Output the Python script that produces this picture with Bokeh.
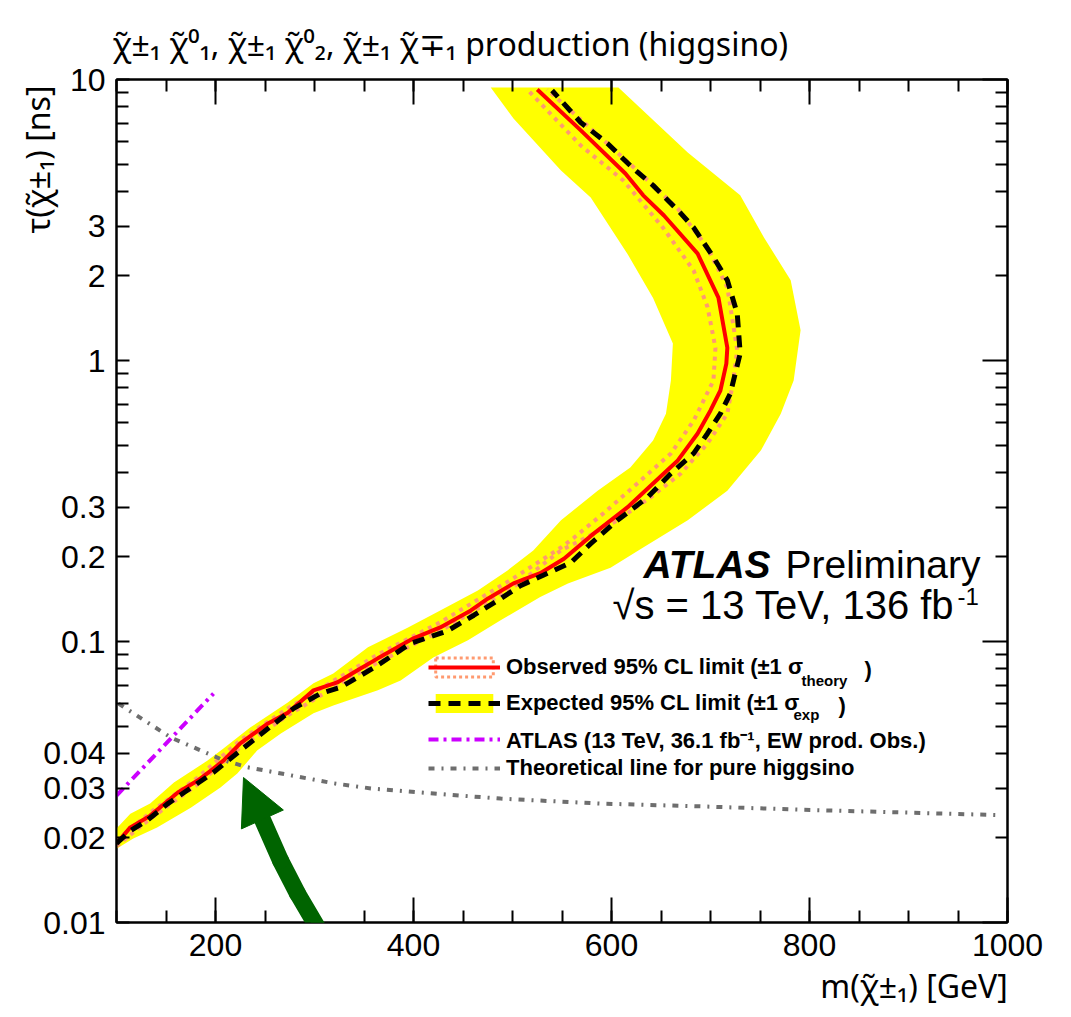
import math
from bokeh.plotting import figure
from bokeh.models import (Range1d, LinearAxis, LogAxis, FixedTicker, SingleIntervalTicker,
                          Label, Legend, LegendItem, Arrow, NormalHead, CustomJSTickFormatter)
from bokeh.embed import file_html
from bokeh.resources import INLINE

FONT = "Liberation Sans"
GREEK_FONT = "Noto Sans"   # shapes the combining tilde over chi correctly
EM = "\u2003"              # em space: used to push the axis titles to the axis ends

# ---------------- data ----------------
obs_m = [100, 114, 134, 162, 182, 198, 208, 225, 253, 273, 299, 323, 343, 364, 400, 427, 458, 475,
         501, 528, 552, 582, 616, 642, 667, 687, 700, 710, 716, 717, 708, 687, 653, 632, 614, 569, 525]
obs_tau = [0.0191, 0.0218, 0.0240, 0.0290, 0.0320, 0.0353, 0.0377, 0.0434, 0.0511, 0.0558, 0.0670,
           0.0715, 0.0788, 0.0871, 0.1026, 0.1122, 0.129, 0.142, 0.161, 0.175, 0.197, 0.242, 0.300,
           0.365, 0.441, 0.550, 0.664, 0.782, 0.975, 1.11, 1.675, 2.40, 3.28, 3.87, 4.63, 6.59, 9.21]

theo_up_m = [100, 134, 182, 225, 273, 323, 364, 427, 501, 549, 569, 606, 639, 670, 697, 717, 723,
             727, 717, 697, 667, 626, 589, 535]
theo_up_tau = [0.0187, 0.0234, 0.0310, 0.0420, 0.0546, 0.0697, 0.0842, 0.109, 0.156, 0.211, 0.229,
               0.270, 0.325, 0.396, 0.507, 0.647, 0.849, 1.09, 1.82, 2.52, 3.47, 4.74, 6.22, 9.21]

theo_dn_m = [100, 134, 182, 225, 273, 323, 364, 427, 501, 549, 562, 592, 626, 660, 683, 703, 705,
             697, 683, 652, 612, 569, 515]
theo_dn_tau = [0.0196, 0.0246, 0.0328, 0.0445, 0.0578, 0.0738, 0.0899, 0.117, 0.168, 0.216, 0.234,
               0.286, 0.365, 0.467, 0.611, 0.849, 1.11, 1.55, 2.09, 2.97, 4.37, 5.82, 9.21]

exp_m = [100, 114, 131, 152, 182, 198, 225, 253, 279, 306, 326, 360, 397, 434, 461, 488, 508, 531,
         559, 579, 606, 636, 660, 683, 697, 710, 720, 730, 727, 717, 703, 683, 670, 642, 622, 596,
         569, 540]
exp_tau = [0.0191, 0.0212, 0.0231, 0.0265, 0.0313, 0.0342, 0.0409, 0.0490, 0.0578, 0.0653, 0.0686,
           0.0807, 0.0984, 0.109, 0.124, 0.142, 0.158, 0.172, 0.191, 0.223, 0.270, 0.325, 0.396,
           0.467, 0.550, 0.647, 0.763, 1.06, 1.47, 1.93, 2.33, 2.97, 3.34, 4.20, 4.82, 5.92, 7.03,
           9.14]

band_out_m = [100, 117, 141, 175, 205, 222, 242, 266, 299, 319, 364, 387, 420, 455, 488, 528, 556,
              599, 632, 677, 717, 751, 771, 784, 791, 781, 754, 730, 677, 607]
band_out_tau = [0.0183, 0.0199, 0.0218, 0.0256, 0.0302, 0.0339, 0.0409, 0.0471, 0.0555, 0.0592,
                0.0670, 0.0726, 0.0877, 0.101, 0.119, 0.144, 0.161, 0.183, 0.216, 0.270, 0.344,
                0.479, 0.647, 0.849, 1.28, 1.93, 2.74, 3.87, 5.50, 9.37]

band_in_m = [100, 114, 134, 158, 192, 208, 235, 273, 299, 319, 354, 394, 427, 465, 495, 521, 549,
             586, 619, 642, 655, 660, 662, 642, 616, 579, 549, 501, 478]
band_in_tau = [0.0216, 0.0244, 0.0265, 0.0315, 0.0377, 0.0416, 0.0494, 0.0607, 0.0710, 0.0769,
               0.0953, 0.112, 0.129, 0.152, 0.179, 0.211, 0.270, 0.344, 0.416, 0.519, 0.647,
               0.849, 1.15, 1.67, 2.40, 3.80, 4.74, 7.26, 9.37]

atlas36_m = [100, 155, 198]
atlas36_tau = [0.0283, 0.0452, 0.0653]

higgsino_m = [102, 155, 208, 232, 319, 357, 447, 488, 589, 690, 791, 993]
higgsino_tau = [0.0601, 0.0455, 0.0378, 0.0357, 0.0313, 0.0300, 0.0283, 0.0276, 0.0265, 0.0259,
                0.0252, 0.0241]

x_major_interval = 200
y_label_ticks = [0.01, 0.02, 0.03, 0.04, 0.1, 0.2, 0.3, 1, 2, 3, 10]
y_label_text = ["0.01", "0.02", "0.03", "0.04", "0.1", "0.2", "0.3", "1", "2", "3", "10"]
decades = [0.01, 0.1, 1, 10]

title_text = ("\u03c7\u0303\u00b1\u2081 \u03c7\u0303\u2070\u2081, \u03c7\u0303\u00b1\u2081 "
              "\u03c7\u0303\u2070\u2082, \u03c7\u0303\u00b1\u2081 \u03c7\u0303\u2213\u2081 "
              "production (higgsino)")
x_title = "m(\u03c7\u0303\u00b1\u2081) [GeV]"
y_title = "\u03c4(\u03c7\u0303\u00b1\u2081) [ns]"

legend_labels = ["Observed 95% CL limit (\u00b11 \u03c3",
                 "Expected 95% CL limit (\u00b11 \u03c3",
                 "ATLAS (13 TeV, 36.1 fb\u207b\u00b9, EW prod. Obs.)",
                 "Theoretical line for pure higgsino"]

# ---------------- colours ----------------
YELLOW = "#ffff00"
RED = "#ff0000"
SALMON = "#ff9a70"
MAGENTA = "#cc00ff"
GREY = "#6e6e6e"
GREEN = "#006400"

FL, FT, FB = 116, 79, 922   # frame edges in picture pixels


def X(px):
    return 100 + (px - FL) / 0.99


def Y(py):
    return 10 ** (1 - (py - FT) / 281)


p = figure(x_range=Range1d(100, 1000), y_range=Range1d(0.01, 10), y_axis_type="log",
           frame_width=891, frame_height=843,
           min_border_left=116, min_border_right=48, min_border_top=79, min_border_bottom=87,
           output_backend="svg", toolbar_location=None,
           background_fill_color="white", border_fill_color="white", title=title_text)
p.xgrid.visible = False
p.ygrid.visible = False
p.outline_line_color = "black"
p.outline_line_width = 2

p.title.text_font = GREEK_FONT
p.title.text_font_size = "32px"
p.title.text_font_style = "normal"
p.title.text_color = "black"
p.title.align = "left"
p.title.offset = -4
p.title.standoff = 29

# ---- axes ----
bx = p.xaxis[0]
bx.ticker = SingleIntervalTicker(interval=x_major_interval, num_minor_ticks=4)
by = p.yaxis[0]
minor_left = [d * k for d in decades[:-1] for k in range(2, 10)]
minor_left = [v for v in minor_left if not any(abs(v - t) < 1e-9 for t in y_label_ticks)]
by.ticker = FixedTicker(ticks=y_label_ticks, minor_ticks=minor_left)
by.major_label_overrides = dict(zip(y_label_ticks, y_label_text))
# x title: centred label padded on the left so that it ends at the right end of the axis
bx.axis_label = EM * 22 + x_title
# y title: label anchored at the top end of the axis, padded at its end
by.axis_label = y_title + EM * 5

for ax, tin, stand, align in ((bx, 25, 5, "center"), (by, 13, -19, "end")):
    ax.axis_line_width = 2
    ax.major_tick_line_width = 2
    ax.minor_tick_line_width = 2
    ax.major_tick_in = tin
    ax.major_tick_out = 0
    ax.minor_tick_in = 12
    ax.minor_tick_out = 0
    ax.major_label_text_font = FONT
    ax.major_label_text_font_size = "32px"
    ax.major_label_text_color = "black"
    ax.major_label_standoff = 11
    ax.axis_label_text_font = GREEK_FONT
    ax.axis_label_text_font_size = "32px"
    ax.axis_label_text_font_style = "normal"
    ax.axis_label_text_color = "black"
    ax.axis_label_standoff = stand
    try:
        ax.axis_label_align = align
    except Exception:
        pass

top_ax = LinearAxis(ticker=SingleIntervalTicker(interval=x_major_interval, num_minor_ticks=4),
                    formatter=CustomJSTickFormatter(code="return ''"), major_label_standoff=0,
                    axis_line_width=2, major_tick_line_width=2, minor_tick_line_width=2,
                    major_tick_in=25, major_tick_out=0, minor_tick_in=12, minor_tick_out=0)
p.add_layout(top_ax, "above")
right_ax = LogAxis(ticker=FixedTicker(ticks=decades,
                                      minor_ticks=[d * k for d in decades[:-1] for k in range(2, 10)]),
                   formatter=CustomJSTickFormatter(code="return ''"), major_label_standoff=0,
                   axis_line_width=2, major_tick_line_width=2, minor_tick_line_width=2,
                   major_tick_in=25, major_tick_out=0, minor_tick_in=12, minor_tick_out=0)
p.add_layout(right_ax, "right")

# ---- curves ----
r_band = p.patch(band_out_m + band_in_m[::-1], band_out_tau + band_in_tau[::-1],
                 fill_color=YELLOW, line_color=None)
p.line(theo_up_m, theo_up_tau, line_color=SALMON, line_width=4, line_dash="4 5")
p.line(theo_dn_m, theo_dn_tau, line_color=SALMON, line_width=4, line_dash="4 5")
r_obs = p.line(obs_m, obs_tau, line_color=RED, line_width=4)
r_exp = p.line(exp_m, exp_tau, line_color="black", line_width=5, line_dash="12 8")
r_mag = p.line(atlas36_m, atlas36_tau, line_color=MAGENTA, line_width=4, line_dash="10 5 3 5")
r_grey = p.line(higgsino_m, higgsino_tau, line_color=GREY, line_width=4, line_dash="6 7 2 7")
theory_proxy = p.quad(left=[100], right=[100], top=[0.01], bottom=[0.01], fill_color=None,
                      line_color=SALMON, line_width=3, line_dash="3 3")

# ---- legend: one single-row legend per entry ----
legend_rows = [(legend_labels[0], [theory_proxy, r_obs], 668, 24),
               (legend_labels[1], [r_band, r_exp], 704, 24),
               (legend_labels[2], [r_mag], 739, 30),
               (legend_labels[3], [r_grey], 769, 24)]
for text, rends, cy, h in legend_rows:
    lg = Legend(items=[LegendItem(label=text, renderers=rends)],
                location=(428 - FL, int(round(FB - cy - h / 2))),
                label_text_font=FONT, label_text_font_size="22px", label_text_font_style="bold",
                label_text_color="black",
                glyph_width=72, glyph_height=24, label_height=24, label_standoff=6,
                padding=0, margin=0, border_line_color=None, background_fill_alpha=0)
    p.add_layout(lg, "center")

SHIFT = 0.34   # canvas Label: rendered baseline sits this many font sizes below the anchor


def lab(text, px, py, size, align="left", style="normal"):
    p.add_layout(Label(x=X(px), y=Y(py - SHIFT * size), text=text, text_font=FONT,
                       text_font_size=f"{size}px", text_align=align,
                       text_baseline="alphabetic", text_font_style=style, text_color="black"))

# legend subscripts
lab("theory", 801, 685, 15, style="bold")
lab(")", 864, 676, 22, style="bold")
lab("exp", 793, 719, 15, style="bold")
lab(")", 838, 712, 22, style="bold")

# ATLAS label
lab("ATLAS", 643, 577, 39, style="bold italic")
lab("Preliminary", 785, 577, 39)
lab("\u221as = 13 TeV, 136 fb", 612, 618, 40)
lab("-1", 957, 604, 24)

# green arrow (annotation)
arrow_path = [(380, 1017), (360, 990), (340, 960), (317, 927), (297, 893), (280, 860), (261, 817)]
arrow_tip = (243, 777)
for (x0, y0), (x1, y1) in zip(arrow_path[:-1], arrow_path[1:]):
    p.add_layout(Arrow(end=None, x_start=X(x0), y_start=Y(y0), x_end=X(x1), y_end=Y(y1),
                       line_color=GREEN, line_width=17, line_cap="round"))
p.add_layout(Arrow(end=NormalHead(size=46, fill_color=GREEN, line_color=GREEN),
                   x_start=X(arrow_path[-1][0]), y_start=Y(arrow_path[-1][1]),
                   x_end=X(arrow_tip[0]), y_end=Y(arrow_tip[1]),
                   line_color=GREEN, line_width=17))

open("out.html", "w").write(file_html(p, INLINE))
